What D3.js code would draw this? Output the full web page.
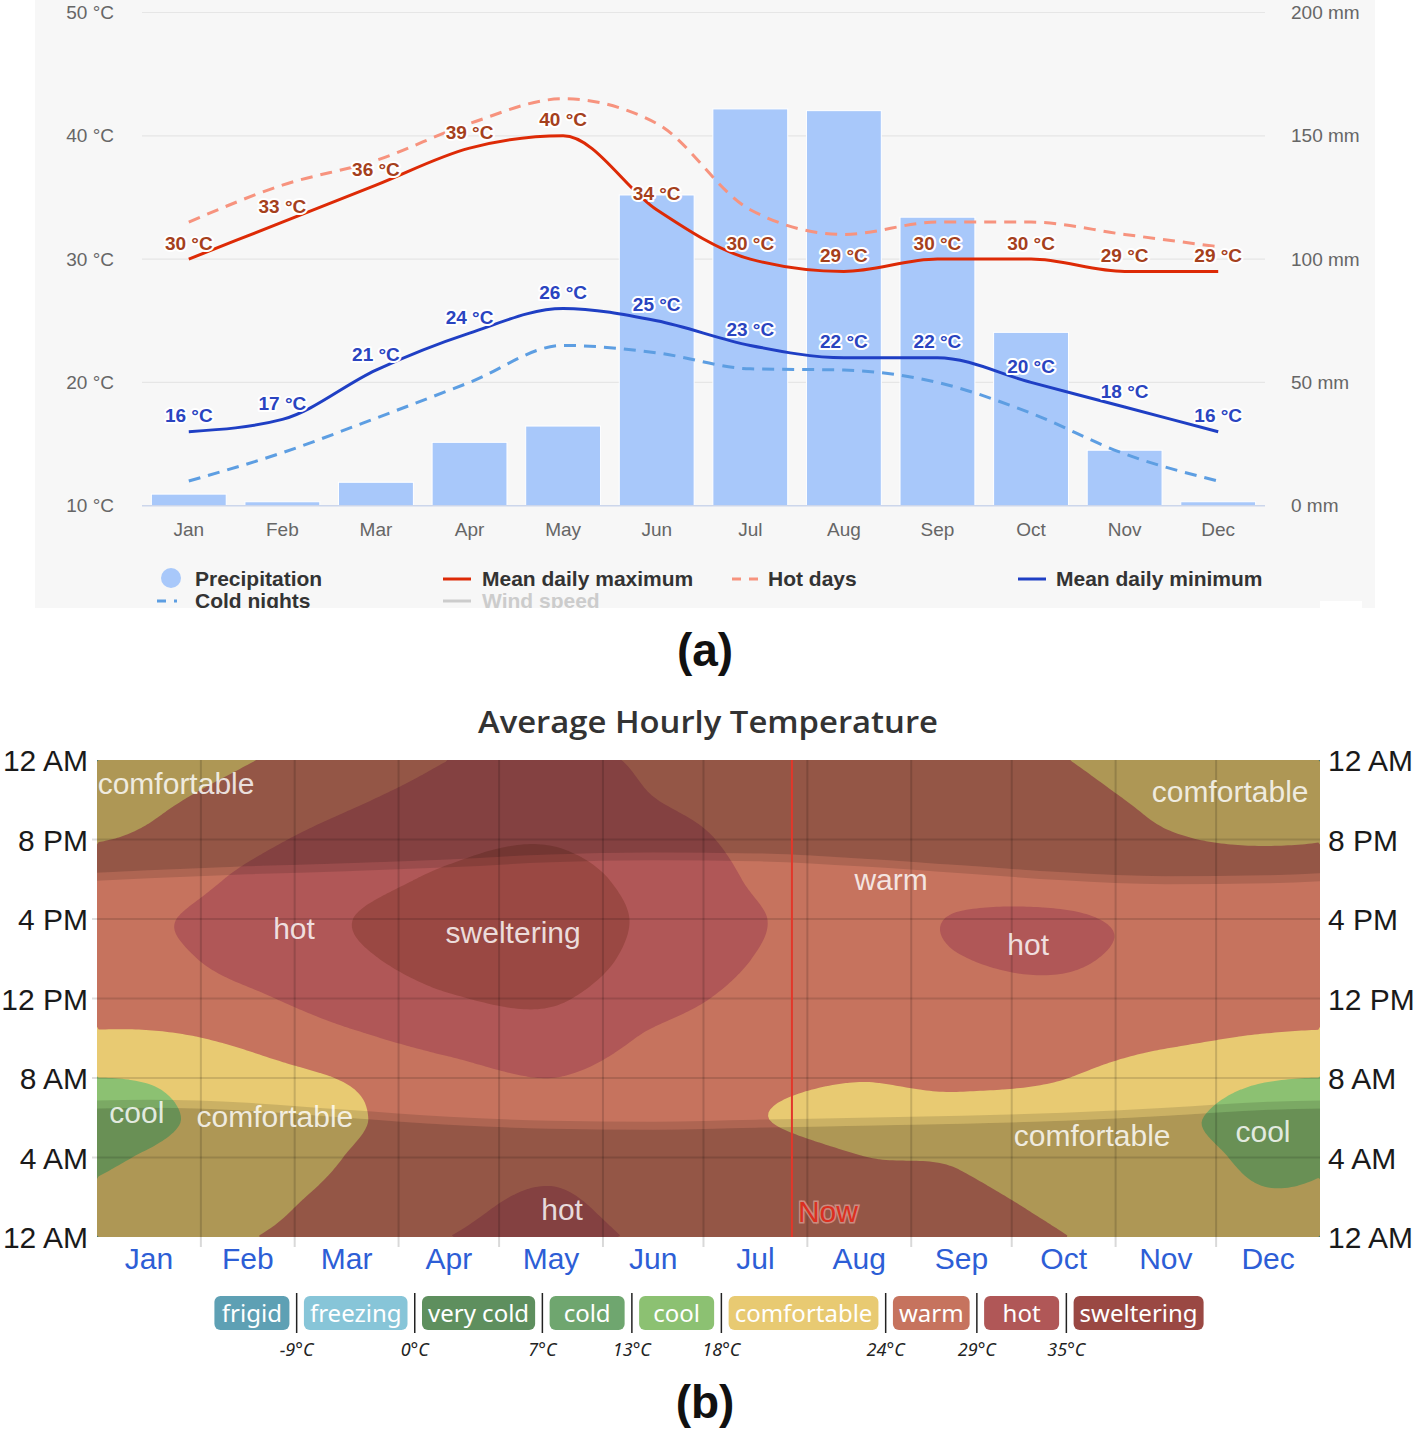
<!DOCTYPE html>
<html><head><meta charset="utf-8">
<script src="https://cdn.jsdelivr.net/npm/d3@7"></script>
<style>html,body{margin:0;padding:0;background:#fff}svg{display:block}</style>
</head><body>
<svg id="c" width="1416" height="1432"></svg>
<script>
// ================= DATA: chart (a) =================
const months = ["Jan","Feb","Mar","Apr","May","Jun","Jul","Aug","Sep","Oct","Nov","Dec"];
const precipitation = [4.7,1.6,9.5,25.7,32.3,126,160.9,160.2,117,70.3,22.5,1.6];
const meanMax = [30,33,36,39,40,34,30,29,30,30,29,29];
const hotDays = [33,36,38,41,43,41,34,32,33,33,32,31];
const meanMin = [16,17,21,24,26,25,23,22,22,20,18,16];
const coldNights = [12,14.3,17.1,20,23,22.4,21.1,21,20,17.5,14.2,12];
const tempTicks = [10,20,30,40,50];
const rainTicks = [0,50,100,150,200];
const legendRow1 = ["Precipitation","Mean daily maximum","Hot days","Mean daily minimum"];
const legendRow2 = ["Cold nights","Wind speed"];

// ================= DATA: chart (b) =================
const monthDays = [31,28,31,30,31,30,31,31,30,31,30,31];
const hourTicks = [0,4,8,12,16,20,24];
const hourLabels = ["12 AM","4 AM","8 AM","12 PM","4 PM","8 PM","12 AM"];
// temperature (°C) at hours 0,2,4,...,22 for the middle of each month
const tJan = [21.3,19.6,18.3,17.2,18.4,23.2,26.5,28.0,28.5,26.8,24.6,23.2];
const tFeb = [23.8,22.6,21.3,20.3,22.0,25.0,28.2,30.5,31.0,29.8,27.8,25.8];
const tMar = [26.0,25.0,24.1,23.4,24.3,28.0,31.5,34.0,34.8,33.0,30.7,28.3];
const tApr = [29.0,27.8,26.8,26.0,27.2,30.8,34.6,36.8,37.5,35.8,33.5,31.0];
const tMay = [30.4,29.3,28.3,27.7,29.0,32.6,35.6,38.0,38.5,37.2,34.6,32.4];
const tJun = [28.3,27.3,26.4,25.8,26.4,28.3,31.0,33.0,33.8,32.8,31.0,29.1];
const tJul = [27.0,26.0,25.1,24.15,24.8,26.3,27.8,28.9,29.3,28.6,28.0,27.5];
const tAug = [25.6,24.8,24.05,23.3,24.1,25.2,26.7,27.8,28.1,27.6,27.0,26.3];
const tSep = [25.0,24.4,23.8,23.2,24.6,26.5,28.0,28.95,29.15,28.0,26.8,25.8];
const tOct = [24.1,23.2,22.4,21.9,24.1,26.6,28.3,29.25,29.25,27.8,26.4,25.2];
const tNov = [21.8,20.5,19.6,18.9,20.8,25.0,27.0,28.3,28.4,26.8,24.4,23.2];
const tDec = [20.2,18.3,17.4,16.9,18.3,23.5,26.5,28.0,28.2,26.5,23.6,22.2];
const hourlyByMonth = [tJan,tFeb,tMar,tApr,tMay,tJun,tJul,tAug,tSep,tOct,tNov,tDec];
const sunsetHour = [18.05,18.25,18.4,18.6,18.85,18.95,18.9,18.65,18.3,17.95,17.75,17.8];
const sunriseHour = [6.9,6.75,6.4,6.05,5.85,5.8,5.9,6.0,6.1,6.25,6.5,6.8];
const twilightHours = 0.4;
const tempBands = ["frigid","freezing","very cold","cold","cool","comfortable","warm","hot","sweltering"];
const bandColors = ["#5ea0b4","#87c5d8","#5e8f5e","#6fa66f","#8cc172","#e8ca72","#c6735e","#b05757","#9a4843"];
const bandThresholds = [-9,0,7,13,18,24,29,35];
const thresholdLabels = ["-9°C","0°C","7°C","13°C","18°C","24°C","29°C","35°C"];
const nowDay = 207.4;
const regionLabels = [
  {text:"comfortable", day:23.6, hour:22.84},
  {text:"comfortable", day:338.2, hour:22.44},
  {text:"warm", day:237, hour:18.0},
  {text:"hot", day:58.8, hour:15.5},
  {text:"sweltering", day:124.2, hour:15.3},
  {text:"hot", day:277.9, hour:14.7},
  {text:"cool", day:11.9, hour:6.24},
  {text:"comfortable", day:53.1, hour:6.04},
  {text:"comfortable", day:297, hour:5.13},
  {text:"cool", day:348, hour:5.33},
  {text:"hot", day:138.8, hour:1.36}
];

const svg = d3.select("#c");
const defs = svg.append("defs");
const SANS = "'Liberation Sans', Arial, sans-serif";

// ================= CHART (a) =================
defs.append("clipPath").attr("id","clipA").append("rect").attr("x",0).attr("y",0).attr("width",1416).attr("height",608);
const gA = svg.append("g").attr("clip-path","url(#clipA)");
gA.append("rect").attr("x",35).attr("y",0).attr("width",1340).attr("height",608).attr("fill","#f7f7f7");

const xA = d3.scaleBand().domain(months).range([142,1265]).paddingInner(0.2).paddingOuter(0.1);
const cx = m => xA(m) + xA.bandwidth()/2;
const yT = d3.scaleLinear().domain([10,50]).range([505.7,12.5]);
const yR = d3.scaleLinear().domain([0,200]).range([505.7,12.5]);

gA.selectAll(".grid").data(tempTicks.filter(t=>t>10)).join("line")
  .attr("x1",142).attr("x2",1265).attr("y1",d=>yT(d)).attr("y2",d=>yT(d))
  .attr("stroke","#e6e6e6").attr("stroke-width",1.2);
gA.selectAll(".lt").data(tempTicks).join("text")
  .attr("x",114).attr("y",d=>yT(d)+6.5).attr("text-anchor","end")
  .attr("font-family",SANS).attr("font-size",19).attr("fill","#666")
  .text(d=>d+" °C");
gA.selectAll(".rt").data(rainTicks).join("text")
  .attr("x",1291).attr("y",d=>yR(d)+6.5).attr("text-anchor","start")
  .attr("font-family",SANS).attr("font-size",19).attr("fill","#666")
  .text(d=>d+" mm");
gA.selectAll(".bar").data(months).join("rect")
  .attr("x",m=>xA(m)).attr("width",xA.bandwidth())
  .attr("y",(m,i)=>yR(precipitation[i])).attr("height",(m,i)=>yR(0)-yR(precipitation[i]))
  .attr("fill","#a8c8fa").attr("stroke","#fff").attr("stroke-width",1);
gA.append("line").attr("x1",142).attr("x2",1265).attr("y1",yT(10)).attr("y2",yT(10))
  .attr("stroke","#ccd6eb").attr("stroke-width",1.5);
gA.selectAll(".ml").data(months).join("text")
  .attr("x",m=>cx(m)).attr("y",536).attr("text-anchor","middle")
  .attr("font-family",SANS).attr("font-size",19).attr("fill","#666").text(d=>d);

const lineGen = vals => d3.line().x((d,i)=>cx(months[i])).y(d=>yT(d)).curve(d3.curveMonotoneX)(vals);
gA.append("path").attr("d",lineGen(hotDays)).attr("fill","none").attr("stroke","#f7937e").attr("stroke-width",3).attr("stroke-dasharray","12,8");
gA.append("path").attr("d",lineGen(coldNights)).attr("fill","none").attr("stroke","#5d9ee2").attr("stroke-width",3).attr("stroke-dasharray","12,8");
gA.append("path").attr("d",lineGen(meanMax)).attr("fill","none").attr("stroke","#dd2a06").attr("stroke-width",3);
gA.append("path").attr("d",lineGen(meanMin)).attr("fill","none").attr("stroke","#1f3fc4").attr("stroke-width",3);

function dataLabels(vals,color){
  gA.selectAll(null).data(vals).join("text")
    .attr("x",(d,i)=>cx(months[i])).attr("y",d=>yT(d)-9.5).attr("text-anchor","middle")
    .attr("font-family",SANS).attr("font-size",19).attr("font-weight","bold")
    .attr("fill",color).attr("stroke","#fff").attr("stroke-width",4).attr("stroke-linejoin","round")
    .attr("paint-order","stroke").text(d=>d+" °C");
}
dataLabels(meanMax,"#a5401c");
dataLabels(meanMin,"#2a44c0");

const lg = gA.append("g").attr("font-family",SANS).attr("font-size",21).attr("font-weight","bold");
lg.append("circle").attr("cx",171).attr("cy",578).attr("r",10).attr("fill","#a8c8fa");
lg.append("text").attr("x",195).attr("y",586).attr("fill","#333").text(legendRow1[0]);
lg.append("line").attr("x1",443).attr("x2",471).attr("y1",579).attr("y2",579).attr("stroke","#dd2a06").attr("stroke-width",3);
lg.append("text").attr("x",482).attr("y",586).attr("fill","#333").text(legendRow1[1]);
lg.append("line").attr("x1",732).attr("x2",760).attr("y1",579).attr("y2",579).attr("stroke","#f7937e").attr("stroke-width",3).attr("stroke-dasharray","9,8");
lg.append("text").attr("x",768).attr("y",586).attr("fill","#333").text(legendRow1[2]);
lg.append("line").attr("x1",1018).attr("x2",1046).attr("y1",579).attr("y2",579).attr("stroke","#1f3fc4").attr("stroke-width",3);
lg.append("text").attr("x",1056).attr("y",586).attr("fill","#333").text(legendRow1[3]);
lg.append("line").attr("x1",157).attr("x2",185).attr("y1",601).attr("y2",601).attr("stroke","#5d9ee2").attr("stroke-width",3).attr("stroke-dasharray","9,8,3,8");
lg.append("text").attr("x",195).attr("y",608).attr("fill","#333").text(legendRow2[0]);
lg.append("line").attr("x1",443).attr("x2",471).attr("y1",601).attr("y2",601).attr("stroke","#cccccc").attr("stroke-width",3);
lg.append("text").attr("x",482).attr("y",608).attr("fill","#cccccc").text(legendRow2[1]);
gA.append("rect").attr("x",1320).attr("y",601).attr("width",42).attr("height",8).attr("fill","#fff");

svg.append("text").attr("x",705).attr("y",666).attr("text-anchor","middle")
  .attr("font-family",SANS).attr("font-weight","bold").attr("font-size",46).attr("fill","#111").text("(a)");

// ================= CHART (b) =================
const X0=97, X1=1320, Y0=760, Y1=1237;
const xD = d3.scaleLinear().domain([0,365]).range([X0,X1]);
const yH = d3.scaleLinear().domain([0,24]).range([Y1,Y0]);
const monthStart = Array.from(d3.cumsum([0,...monthDays])).slice(0,12);
const mids = monthStart.map((s,i)=>s+monthDays[i]/2);

svg.append("text").attr("x",708).attr("y",733).attr("text-anchor","middle")
  .attr("font-family","'Open Sans','Noto Sans',sans-serif").attr("font-weight",600).attr("font-size",31)
  .attr("fill","#333").attr("textLength",460).attr("lengthAdjust","spacingAndGlyphs")
  .text("Average Hourly Temperature");

defs.append("clipPath").attr("id","clipB").append("rect").attr("x",X0).attr("y",Y0).attr("width",X1-X0).attr("height",Y1-Y0);
const gB = svg.append("g");
const gP = gB.append("g").attr("clip-path","url(#clipB)");

function cr(p0,p1,p2,p3,t){const t2=t*t,t3=t2*t;return 0.5*(2*p1+(-p0+p2)*t+(2*p0-5*p1+4*p2-p3)*t2+(-p0+3*p1-3*p2+p3)*t3);}
function periodic(vals,pos){const n=vals.length,i=Math.floor(pos),t=pos-i,g=k=>vals[((k%n)+n)%n];return cr(g(i-1),g(i),g(i+1),g(i+2),t);}
const extMids=[mids[11]-365,...mids,mids[0]+365];
function monthPos(d){for(let k=0;k<extMids.length-1;k++){if(d>=extMids[k]&&d<=extMids[k+1])return (k-1)+(d-extMids[k])/(extMids[k+1]-extMids[k]);}return 0;}

const nx=365, ny=144;
const values=new Float64Array(nx*ny);
const mPos=d3.range(nx).map(i=>monthPos((i+0.5)*365/nx));
for(let j=0;j<ny;j++){
  const hour=(j+0.5)*24/ny;
  const col=hourlyByMonth.map(a=>periodic(a,hour/2));
  for(let i=0;i<nx;i++) values[i+j*nx]=periodic(col,mPos[i]);
}
const contours=d3.contours().size([nx,ny]).thresholds(bandThresholds)(values);
const proj=d3.geoTransform({point(x,y){this.stream.point(xD(x*365/nx),yH(y*24/ny));}});
const gpath=d3.geoPath(proj);
gP.append("rect").attr("x",X0).attr("y",Y0).attr("width",X1-X0).attr("height",Y1-Y0).attr("fill",bandColors[0]);
gP.selectAll(".ct").data(contours).join("path").attr("d",gpath).attr("fill",(d,i)=>bandColors[i+1]);

// night / twilight overlays
const ext = arr => [{d:mids[11]-365,v:arr[11]}].concat(mids.map((m,i)=>({d:m,v:arr[i]})),[{d:mids[0]+365,v:arr[0]}]);
const ssPts=ext(sunsetHour), srPts=ext(sunriseHour);
const mkArea=(f0,f1)=>d3.area().x(p=>xD(p.d)).y0(f0).y1(f1).curve(d3.curveMonotoneX);
gP.append("path").attr("d",mkArea(()=>yH(24),p=>yH(p.v+twilightHours))(ssPts)).attr("fill","#000").attr("fill-opacity",0.25);
gP.append("path").attr("d",mkArea(p=>yH(p.v+twilightHours),p=>yH(p.v))(ssPts)).attr("fill","#000").attr("fill-opacity",0.12);
gP.append("path").attr("d",mkArea(()=>yH(0),p=>yH(p.v-twilightHours))(srPts)).attr("fill","#000").attr("fill-opacity",0.25);
gP.append("path").attr("d",mkArea(p=>yH(p.v-twilightHours),p=>yH(p.v))(srPts)).attr("fill","#000").attr("fill-opacity",0.12);

gB.selectAll(".hg").data(hourTicks.filter(h=>h>0&&h<24)).join("line")
  .attr("x1",X0-5).attr("x2",X1).attr("y1",d=>yH(d)).attr("y2",d=>yH(d))
  .attr("stroke","#000").attr("stroke-opacity",0.13).attr("stroke-width",2);
gB.selectAll(".vg").data(monthStart.slice(1)).join("line")
  .attr("x1",d=>xD(d)).attr("x2",d=>xD(d)).attr("y1",Y0).attr("y2",Y1+10)
  .attr("stroke","#000").attr("stroke-opacity",0.15).attr("stroke-width",2);

gB.append("line").attr("x1",xD(nowDay)).attr("x2",xD(nowDay)).attr("y1",Y0).attr("y2",Y1)
  .attr("stroke","#e2372a").attr("stroke-width",2);

gB.selectAll(".rl").data(regionLabels).join("text")
  .attr("x",d=>xD(d.day)).attr("y",d=>yH(d.hour)).attr("dy","0.35em").attr("text-anchor","middle")
  .attr("font-family",SANS).attr("font-size",30).attr("fill","#fff").attr("fill-opacity",0.82).text(d=>d.text);
gB.append("text").attr("x",xD(nowDay)+6).attr("y",1222)
  .attr("font-family",SANS).attr("font-size",30).attr("fill","#dc2f20")
  .attr("stroke","#f0b0a8").attr("stroke-opacity",0.6).attr("stroke-width",3).attr("paint-order","stroke").text("Now");

gB.selectAll(".yl").data(hourTicks).join("text")
  .attr("x",88).attr("y",d=>yH(d)+11).attr("text-anchor","end")
  .attr("font-family",SANS).attr("font-size",30).attr("fill","#1a1a1a").text((d,i)=>hourLabels[i]);
gB.selectAll(".yr").data(hourTicks).join("text")
  .attr("x",1328).attr("y",d=>yH(d)+11).attr("text-anchor","start")
  .attr("font-family",SANS).attr("font-size",30).attr("fill","#1a1a1a").text((d,i)=>hourLabels[i]);
gB.selectAll(".xl").data(months).join("text")
  .attr("x",(m,i)=>xD(mids[i])).attr("y",1269).attr("text-anchor","middle")
  .attr("font-family",SANS).attr("font-size",30).attr("fill","#2d5ed6").text(d=>d);

const LF="'Noto Sans','Open Sans',sans-serif";
const meas=svg.append("text").attr("font-family",LF).attr("font-size",24);
const widths=tempBands.map(t=>{meas.text(t);return Math.max(75,meas.node().getComputedTextLength()+12);});
meas.remove();
const gap=14.5;
const total=d3.sum(widths)+gap*(widths.length-1);
let xc=709-total/2;
const pills=[], seps=[];
widths.forEach((w,i)=>{pills.push({x:xc,w,i});xc+=w;if(i<widths.length-1){seps.push(xc+gap/2);xc+=gap;}});
const gl=svg.append("g");
gl.selectAll(".pill").data(pills).join("rect").attr("x",d=>d.x).attr("y",1296).attr("width",d=>d.w).attr("height",34)
  .attr("rx",6).attr("fill",d=>bandColors[d.i]);
gl.selectAll(".pt").data(pills).join("text").attr("x",d=>d.x+d.w/2).attr("y",1322).attr("text-anchor","middle")
  .attr("font-family",LF).attr("font-size",24).attr("fill","#fff").text(d=>tempBands[d.i]);
gl.selectAll(".sep").data(seps).join("line").attr("x1",d=>d).attr("x2",d=>d).attr("y1",1293).attr("y2",1333)
  .attr("stroke","#222").attr("stroke-width",1.5);
gl.selectAll(".tl").data(seps).join("text").attr("x",d=>d).attr("y",1356).attr("text-anchor","middle")
  .attr("font-family",LF).attr("font-style","italic").attr("font-size",18).attr("fill","#222")
  .text((d,i)=>thresholdLabels[i]);

svg.append("text").attr("x",705).attr("y",1418).attr("text-anchor","middle")
  .attr("font-family",SANS).attr("font-weight","bold").attr("font-size",46).attr("fill","#111").text("(b)");
</script>
</body></html>
